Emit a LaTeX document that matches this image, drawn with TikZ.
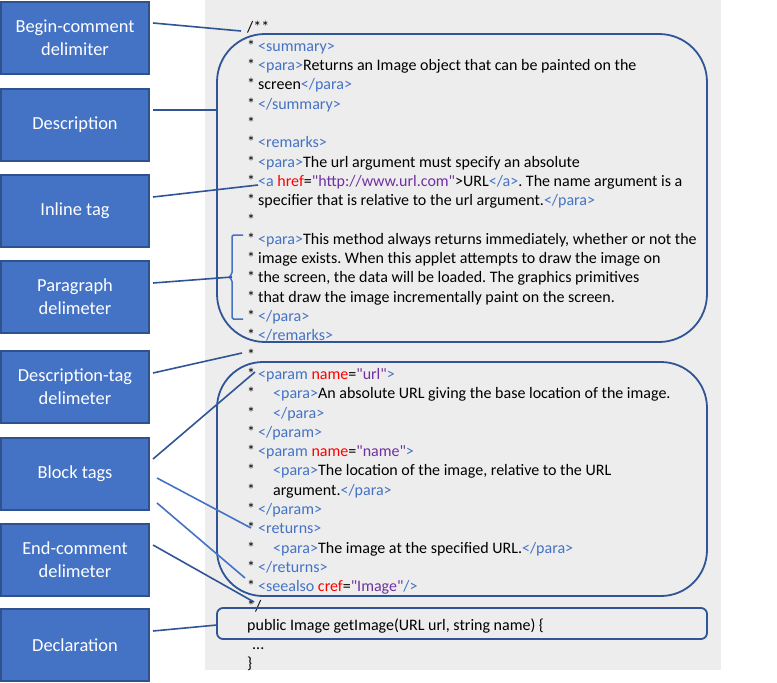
\documentclass[tikz,border=0pt]{standalone}
\usepackage{fontspec}
\setmainfont{Carlito}[Ligatures=TeXOff]
\frenchspacing
\definecolor{bgray}{HTML}{EDEDED}
\definecolor{lblue}{HTML}{4472C4}
\definecolor{dblue}{RGB}{47,85,151}
\definecolor{bborder}{RGB}{47,82,143}
\definecolor{attred}{HTML}{FF0000}
\definecolor{valpur}{HTML}{7030A0}
\newcommand{\tagc}[1]{\textcolor{lblue}{#1}}
\newcommand{\attc}[1]{\textcolor{attred}{#1}}
\newcommand{\valc}[1]{\textcolor{valpur}{"#1"}}
\newcommand{\starA}{\makebox[11pt][l]{*}}
\newcommand{\starB}{\makebox[26pt][l]{*}}
\begin{document}
\begin{tikzpicture}[x=1pt,y=-1pt,
  lbl/.style={draw=bborder,line width=2pt,fill=lblue,text=white,minimum width=148pt,minimum height=72pt,align=center,font=\fontsize{18.4}{23}\selectfont,inner sep=0pt},
  cl/.style={anchor=base west,inner sep=0pt,font=\fontsize{16}{19.3}\selectfont},
  rbox/.style={draw=dblue,line width=1.8pt},
  dcon/.style={draw=dblue,line width=1.6pt},
  lcon/.style={draw=lblue,line width=1.6pt}]
\useasboundingbox (0,0) rectangle (777,683);
\fill[bgray] (205,0) rectangle (721,670);

% label boxes
\node[lbl] (b1) at (75,37.5) {Begin-comment\\delimiter};
\node[lbl] (b2) at (75,124.5) {Description};
\node[lbl] (b3) at (75,210.5) {Inline tag};
\node[lbl] (b4) at (75,296.5) {Paragraph\\delimeter};
\node[lbl] (b5) at (75,387) {Description-tag\\delimeter};
\node[lbl] (b6) at (75,474) {Block tags};
\node[lbl] (b7) at (75,559.5) {End-comment\\delimeter};
\node[lbl] (b8) at (75,645) {Declaration};

% code lines
\node[cl] (c1) at (247,32) {/**};
\node[cl] (c2) at (247,51.3) {\starA\tagc{<summary>}};
\node[cl] (c3) at (247,70.6) {\starA\tagc{<para>}Returns an Image object that can be painted on the};
\node[cl] (c4) at (247,89.9) {\starA screen\tagc{</para>}};
\node[cl] (c5) at (247,109.2) {\starA\tagc{</summary>}};
\node[cl] (c6) at (247,128.5) {*};
\node[cl] (c7) at (247,147.8) {\starA\tagc{<remarks>}};
\node[cl] (c8) at (247,167.1) {\starA\tagc{<para>}The url argument must specify an absolute};
\node[cl] (c9) at (247,186.4) {\starA\tagc{<a} \attc{href}=\valc{http://www.url.com}>URL\tagc{</a>}. The name argument is a};
\node[cl] (c10) at (247,205.7) {\starA specifier that is relative to the url argument.\tagc{</para>}};
\node[cl] (c11) at (247,225.0) {*};
\node[cl] (c12) at (247,244.3) {\starA\tagc{<para>}This method always returns immediately, whether or not the};
\node[cl] (c13) at (247,263.6) {\starA image exists. When this applet attempts to draw the image on};
\node[cl] (c14) at (247,282.9) {\starA the screen, the data will be loaded. The graphics primitives};
\node[cl] (c15) at (247,302.2) {\starA that draw the image incrementally paint on the screen.};
\node[cl] (c16) at (247,321.5) {\starA\tagc{</para>}};
\node[cl] (c17) at (247,340.8) {\starA\tagc{</remarks>}};
\node[cl] (c18) at (247,360.1) {*};
\node[cl] (c19) at (247,379.4) {\starA\tagc{<param} \attc{name}=\valc{url}\tagc{>}};
\node[cl] (c20) at (247,398.7) {\starB\tagc{<para>}An absolute URL giving the base location of the image.};
\node[cl] (c21) at (247,418.0) {\starB\tagc{</para>}};
\node[cl] (c22) at (247,437.3) {\starA\tagc{</param>}};
\node[cl] (c23) at (247,456.6) {\starA\tagc{<param} \attc{name}=\valc{name}\tagc{>}};
\node[cl] (c24) at (247,475.9) {\starB\tagc{<para>}The location of the image, relative to the URL};
\node[cl] (c25) at (247,495.2) {\starB argument.\tagc{</para>}};
\node[cl] (c26) at (247,514.5) {\starA\tagc{</param>}};
\node[cl] (c27) at (247,533.8) {\starA\tagc{<returns>}};
\node[cl] (c28) at (247,553.1) {\starB\tagc{<para>}The image at the specified URL.\tagc{</para>}};
\node[cl] (c29) at (247,572.4) {\starA\tagc{</returns>}};
\node[cl] (c30) at (247,591.7) {\starA\tagc{<seealso} \attc{cref}=\valc{Image}\tagc{/>}};
\node[cl] (c31) at (247,611.0) {*/};
\node[cl] (c32) at (247,630.3) {public Image getImage(URL url, string name) \{};
\node[cl] (c33) at (247,649.6) {\hspace{5pt}...};
\node[cl] (c34) at (247,668.9) {\}};

% rounded boxes
\draw[rbox,rounded corners=48pt] (217,34) rectangle (707,342);
\draw[rbox,rounded corners=46pt] (217,362) rectangle (707,596);
\draw[rbox,rounded corners=6pt] (217,608) rectangle (707,639);
\node[inner sep=0pt,minimum size=0pt] (descbox) at (217,110) {};
\node[inner sep=0pt,minimum size=0pt] (declbox) at (217,625) {};

% bracket
\draw[lblue,line width=1.5pt,rounded corners=1.5pt] (243,235) -- (232,235) -- (232,274) -- (229,277) -- (232,280) -- (232,319) -- (243,319);
\coordinate (brk) at (232,277);

% connector ends
\coordinate (s1) at (153,23);   \coordinate (e1) at (241,31);
\coordinate (s2) at (153,110);
\coordinate (s3) at (153,197);  \coordinate (e3) at (258,185);
\coordinate (s4) at (153,283);
\coordinate (s5) at (153,373);  \coordinate (e5) at (242,353);
\coordinate (s6) at (153,459);  \coordinate (e6) at (255,372);
\coordinate (s7) at (157,478);  \coordinate (e7) at (251,528);
\coordinate (s8) at (157,503);  \coordinate (e8) at (245,578);
\coordinate (s9) at (153,545);  \coordinate (e9) at (254,602);
\coordinate (s10) at (153,631);

\draw[dcon] (s1) -- (e1);
\draw[dcon] (s2) -- (descbox);
\draw[dcon] (s3) -- (e3);
\draw[dcon] (s4) -- (brk);
\draw[dcon] (s5) -- (e5);
\draw[dcon] (s6) -- (e6);
\draw[lcon] (s7) -- (e7);
\draw[lcon] (s8) -- (e8);
\draw[dcon] (s9) -- (e9);
\draw[dcon] (s10) -- (declbox);
\end{tikzpicture}
\end{document}
